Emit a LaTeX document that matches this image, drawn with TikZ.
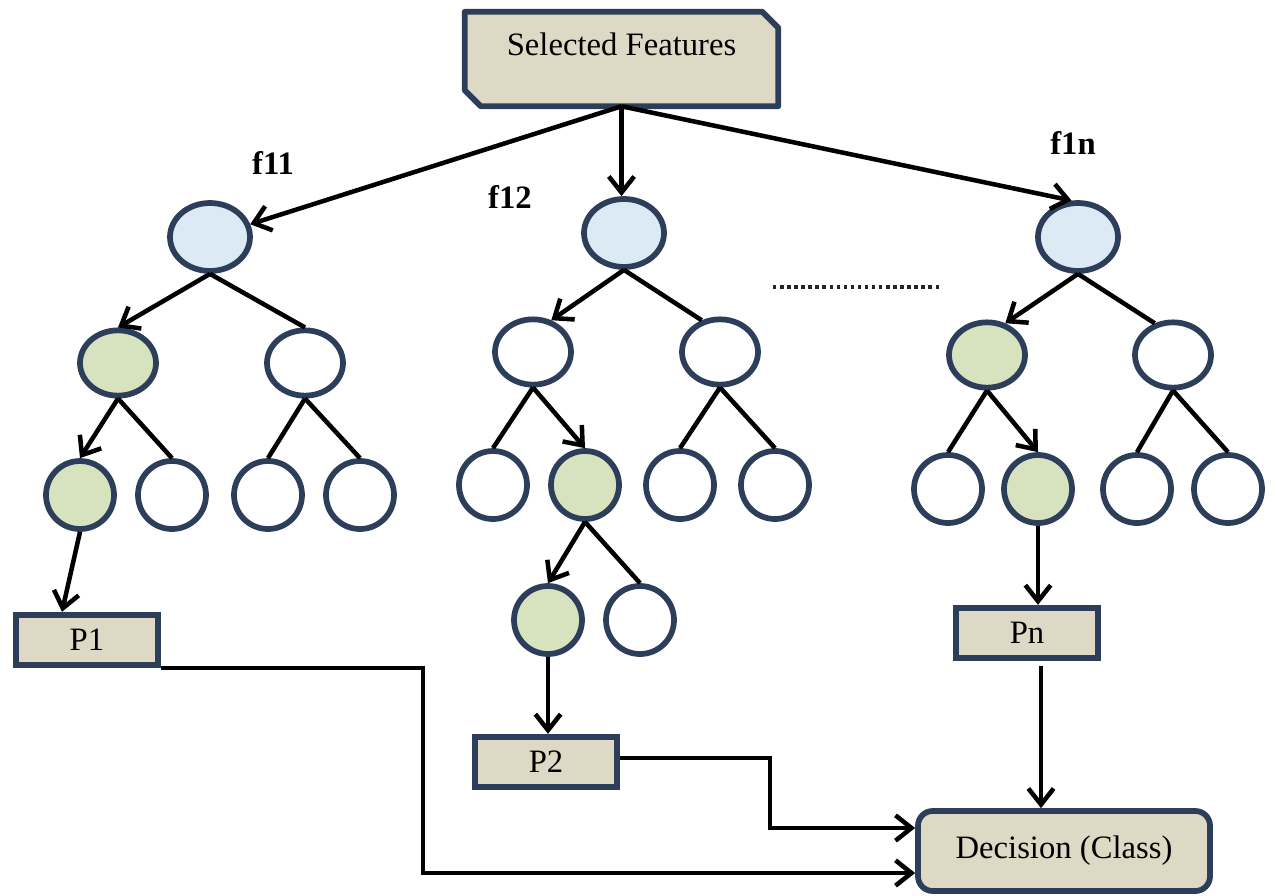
\documentclass[tikz,border=0pt]{standalone}
\usepackage{fontspec}
\setmainfont{Liberation Serif}
\usetikzlibrary{shapes.geometric,arrows.meta,calc,backgrounds}
\definecolor{edgeblue}{RGB}{45,62,90}
\definecolor{boxtan}{RGB}{221,217,196}
\definecolor{lblue}{RGB}{219,234,244}
\definecolor{lgreen}{RGB}{215,227,191}
\begin{document}
\begin{tikzpicture}[x=0.75pt,y=-0.75pt,
  ln/.style={line width=3.4pt,draw=black},
  arr/.style={ln,-{Straight Barb[length=12pt,width=19pt]}},
  tnode/.style={ellipse,draw=edgeblue,line width=4.3pt,inner sep=0pt,fill=white},
  topn/.style={tnode,fill=lblue,minimum width=60pt,minimum height=51pt},
  midn/.style={tnode,minimum width=57pt,minimum height=49pt},
  leafn/.style={tnode,minimum width=51pt,minimum height=51pt},
  sel/.style={fill=lgreen},
  pbox/.style={rectangle,draw=edgeblue,fill=boxtan,line width=4.3pt,inner sep=0pt,
    minimum width=107pt,minimum height=38pt,font=\fontsize{24.5}{27}\selectfont},
  lbl/.style={font=\bfseries\fontsize{24.5}{27}\selectfont,inner sep=0pt}
]
\useasboundingbox (0,0) rectangle (1278,896);

% top box
\node[inner sep=0pt,text height=32.25pt,text depth=38.25pt,minimum width=234.75pt,
  font=\fontsize{24.5}{27}\selectfont] (sf) at (621.5,59) {Selected Features};
\begin{scope}[on background layer]
\draw[draw=edgeblue,fill=boxtan,line width=4.3pt,line join=round]
  (sf.north west) -- ($(sf.north east)+(-16,0)$) -- ($(sf.north east)+(0,16)$)
  -- (sf.south east) -- ($(sf.south west)+(16,0)$) -- ($(sf.south west)+(0,-16)$) -- cycle;
\end{scope}

% left tree
\node[topn] (L1) at (210,237) {};
\node[midn,sel] (L2a) at (118,363) {};
\node[midn] (L2b) at (305,363) {};
\node[leafn,sel] (L3a) at (80,495) {};
\node[leafn] (L3b) at (172,495) {};
\node[leafn] (L3c) at (268,495) {};
\node[leafn] (L3d) at (360,495) {};

% middle tree
\node[topn] (M1) at (624,233) {};
\node[midn] (M2a) at (533,352) {};
\node[midn] (M2b) at (720,352) {};
\node[leafn] (M3a) at (493,485) {};
\node[leafn,sel] (M3b) at (585,485) {};
\node[leafn] (M3c) at (680,485) {};
\node[leafn] (M3d) at (775,485) {};
\node[leafn,sel] (M4a) at (548,620) {};
\node[leafn] (M4b) at (640,620) {};

% right tree
\node[topn] (R1) at (1078,237) {};
\node[midn,sel] (R2a) at (987,355) {};
\node[midn] (R2b) at (1173,355) {};
\node[leafn] (R3a) at (948,489) {};
\node[leafn,sel] (R3b) at (1038,489) {};
\node[leafn] (R3c) at (1137,489) {};
\node[leafn] (R3d) at (1228,489) {};

% boxes
\node[pbox] (P1) at (87,640) {P1};
\node[pbox] (P2) at (546,762) {P2};
\node[pbox] (Pn) at (1027,633) {Pn};
\node[pbox,rounded corners=11pt,minimum width=219pt,minimum height=60pt] (Dec) at (1064,851) {Decision (Class)};

% labels
\node[lbl] (f11) at (273,163) {f11};
\node[lbl] (f12) at (510,197) {f12};
\node[lbl] (f1n) at (1073,143) {f1n};

% dotted separator
\draw[line width=2.6pt,dash pattern=on 2.6pt off 2.7pt,draw=black!85] (773,287) -- (940,287);

% top arrows
\draw[arr] (sf.south) -- (L1);
\draw[arr] (sf.south) -- (sf.south |- M1.north);
\draw[arr] (sf.south) -- (R1.100);

% left tree edges
\draw[arr] (L1.south) -- (L2a.north);
\draw[ln] (L1.south) -- (L2b.north);
\draw[arr] (L2a.south) -- (L3a.north);
\draw[ln] (L2a.south) -- (L3b.north);
\draw[ln] (L2b.south) -- (L3c.north);
\draw[ln] (L2b.south) -- (L3d.north);
\draw[arr] (L3a.south) -- ($(P1.north)+(-25,0)$);

% middle tree edges
\draw[arr] (M1.south) -- (M2a.60);
\draw[ln] (M1.south) -- (M2b.120);
\draw[ln] (M2a.south) -- (M3a.north);
\draw[arr] (M2a.south) -- (M3b.north);
\draw[ln] (M2b.south) -- (M3c.north);
\draw[ln] (M2b.south) -- (M3d.north);
\draw[arr] (M3b.south) -- (M4a.north);
\draw[ln] (M3b.south) -- (M4b.north);
\draw[arr] (M4a.south) -- (M4a.south |- P2.north);

% right tree edges
\draw[arr] (R1.south) -- (R2a.60);
\draw[ln] (R1.south) -- (R2b.120);
\draw[ln] (R2a.south) -- (R3a.north);
\draw[arr] (R2a.south) -- (R3b.north);
\draw[ln] (R2b.south) -- (R3c.north);
\draw[ln] (R2b.south) -- (R3d.north);
\draw[arr] (R3b.south) -- (R3b.south |- Pn.north);

% to decision
\coordinate (pa) at ($(Pn.south)+(14,5)$);
\draw[arr] (pa) -- (pa |- Dec.north);
\draw[arr] ($(P2.east)+(0,-4)$) -| ($(Dec.west)+(-145,-23)$) -- ($(Dec.west)+(0,-23)$);
\draw[arr] (P1.south east) -| ($(Dec.west)+(-492,22)$) -- ($(Dec.west)+(0,22)$);
\end{tikzpicture}
\end{document}
